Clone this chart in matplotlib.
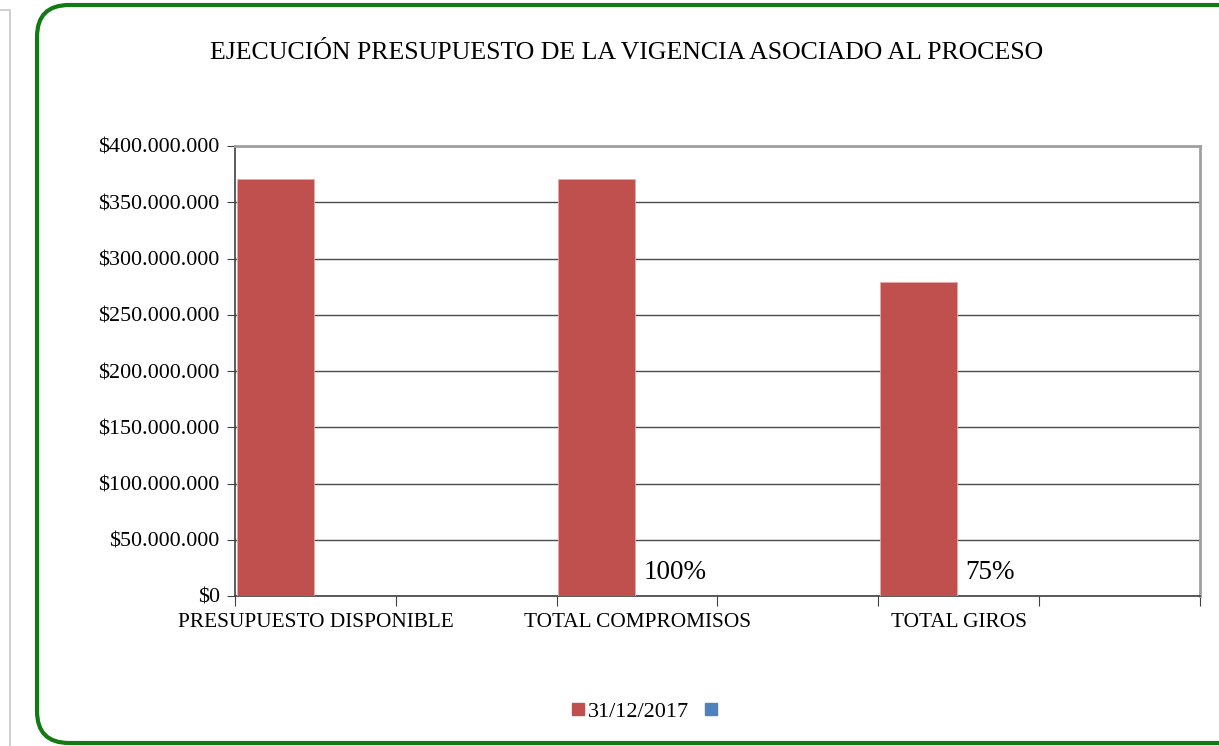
import matplotlib
matplotlib.use('Agg')
import matplotlib.pyplot as plt
import numpy as np
from matplotlib.patches import FancyBboxPatch
from matplotlib.lines import Line2D
from matplotlib.transforms import IdentityTransform
from matplotlib.ticker import FuncFormatter, MultipleLocator

# data (Excel chart: 6 category slots, labels on every other slot)
categories = ['PRESUPUESTO DISPONIBLE', '', 'TOTAL COMPROMISOS', '', 'TOTAL GIROS', '']
ejecucion_2017 = [371_000_000, 0, 371_000_000, 0, 279_000_000, 0]
porcentaje = [None, None, 1.00, None, 0.75, None]
serie_label = '31/12/2017'
title = 'EJECUCIÓN PRESUPUESTO DE LA VIGENCIA ASOCIADO AL PROCESO'

RED = '#c0504d'
BLUE = '#4f81bd'
plt.rcParams['font.family'] = ['Liberation Serif', 'DejaVu Serif']

fig = plt.figure(figsize=(12.19, 7.46), dpi=100)
ax = fig.add_axes([235 / 1219, 150 / 746, 965 / 1219, 450 / 746])

x = np.arange(len(categories))
w = 0.48
ax.bar(x - w / 2 - 0.01, ejecucion_2017, width=w, color=RED, edgecolor='#e8a9a7',
       linewidth=0.6, zorder=3)
ax.bar(x + w / 2, [0] * len(categories), width=w, color=BLUE, zorder=3)

# percentage labels sit in the (empty) second series slot
for xi, p in zip(x, porcentaje):
    if p is not None:
        ax.text(xi + 0.04, 10_000_000, f'{p:.0%}', fontsize=19.5, ha='left', va='bottom', zorder=4)

ax.set_xlim(-0.5, len(categories) - 0.5)
ax.set_ylim(0, 400_000_000)
ax.yaxis.set_major_locator(MultipleLocator(50_000_000))
ax.yaxis.set_major_formatter(FuncFormatter(
    lambda v, _: '$0' if v == 0 else '$' + f'{int(v):,}'.replace(',', '.')))
ax.grid(axis='y', color='#4a4a4a', linewidth=1.0, zorder=1)
ax.set_axisbelow(True)

# category ticks between slots, labels centred on slots
ax.set_xticks(np.arange(-0.5, len(categories)), minor=False)
ax.set_xticklabels([])
ax.set_xticks(x, minor=True)
ax.set_xticklabels(categories, minor=True, fontsize=15.3)
ax.tick_params(axis='x', which='major', length=7, color='#404040', direction='out')
ax.tick_params(axis='x', which='minor', length=0, pad=12)
ax.tick_params(axis='y', length=6, color='#404040', labelsize=15.8, pad=5)

for s in ['top', 'right']:
    ax.spines[s].set_color('#a0a0a0')
    ax.spines[s].set_linewidth(2)
for s in ['left', 'bottom']:
    ax.spines[s].set_color('#404040')
    ax.spines[s].set_linewidth(1.2)

fig.text(627 / 1219, 1 - 53 / 746, title, fontsize=18.6, ha='center', va='center')

# legend
handles = [Line2D([], [], marker='s', linestyle='', markersize=8, color=RED),
           Line2D([], [], marker='s', linestyle='', markersize=8, color=BLUE)]
fig.legend(handles, [serie_label, ''], loc='center', bbox_to_anchor=(645 / 1219, 1 - 712 / 746),
           ncol=2, frameon=False, fontsize=16, handletextpad=0.05, columnspacing=0.6,
           handlelength=0.8)

# rounded green frame and page border (pixel coordinates)
box = FancyBboxPatch((37, 3), 1230, 738, boxstyle='round,pad=0,rounding_size=32',
                     transform=IdentityTransform(), facecolor='none',
                     edgecolor='#127a12', linewidth=3, clip_on=False)
fig.add_artist(box)
fig.add_artist(Line2D([10, 10, 0], [0, 736, 736], transform=IdentityTransform(),
                      color='#c8c8c8', linewidth=1.2))

fig.savefig('out.png', dpi=100)
